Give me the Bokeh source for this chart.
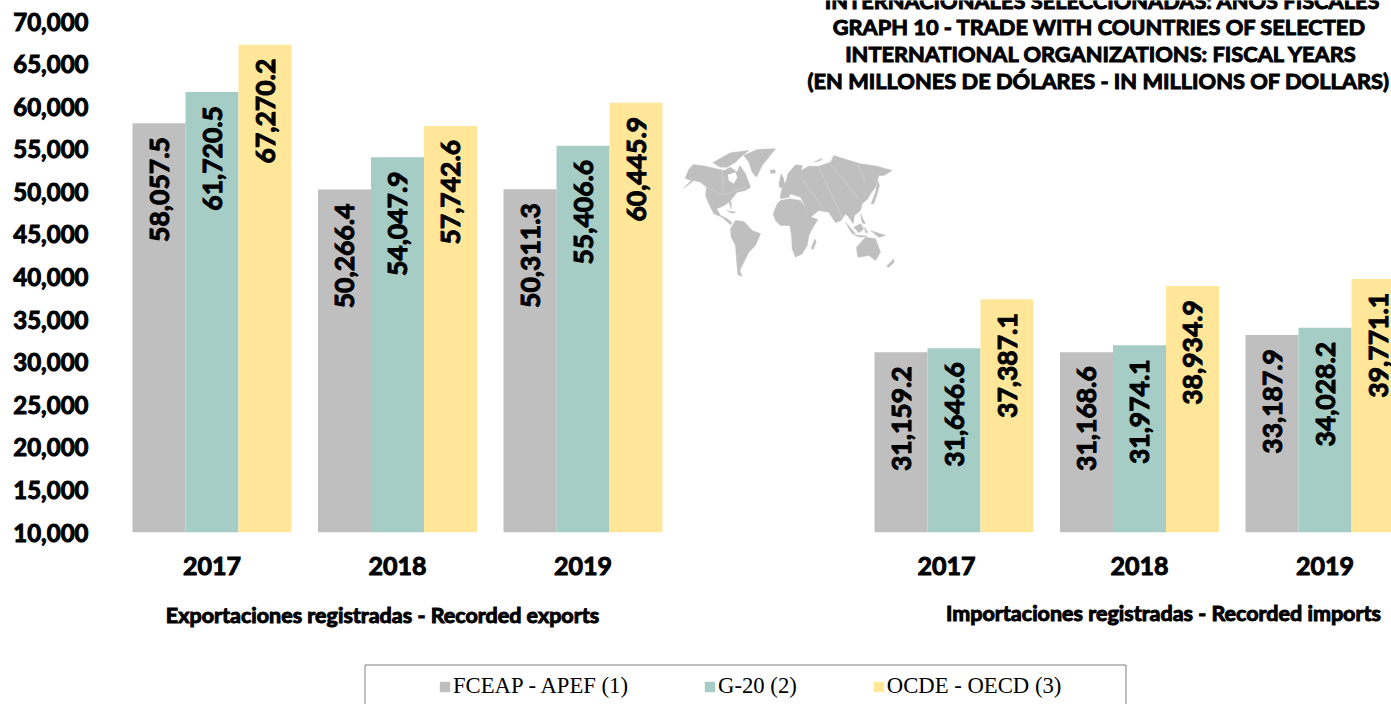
from bokeh.plotting import figure
from bokeh.embed import file_html
from bokeh.resources import INLINE
from bokeh.layouts import column
from bokeh.models import Range1d, Label, Legend, LegendItem, BoxAnnotation, FixedTicker, ColumnDataSource, NumeralTickFormatter
from bokeh.core.properties import value
import math

years = ["2017", "2018", "2019"]
fceap_exp = [58057.5, 50266.4, 50311.3]
g20_exp = [61720.5, 54047.9, 55406.6]
ocde_exp = [67270.2, 57742.6, 60445.9]
fceap_imp = [31159.2, 31168.6, 33187.9]
g20_imp = [31646.6, 31974.1, 34028.2]
ocde_imp = [37387.1, 38934.9, 39771.1]
y_ticks = list(range(10000, 70001, 5000))
series_names = ["FCEAP - APEF (1)", "G-20 (2)", "OCDE - OECD (3)"]
colors = ["#BFBFBF", "#A5CDC6", "#FFE699"]
title_lines = [
    "INTERNACIONALES SELECCIONADAS: AÑOS FISCALES",
    "GRAPH 10 - TRADE WITH COUNTRIES OF SELECTED",
    "INTERNATIONAL ORGANIZATIONS: FISCAL YEARS",
    "(EN MILLONES DE DÓLARES - IN MILLIONS OF DOLLARS)",
]
sub_exp = "Exportaciones registradas - Recorded exports"
sub_imp = "Importaciones registradas - Recorded imports"

FONT = "Lato"
BLACK = "#000000"
W, H = 1391, 704
H1 = 590              # main panel height; the lower panel holds subtitles and legend
H2 = H - H1
L, B = 95, 532
GROUP, BAR = 185.5, 53.0
X0 = 211.5
PX_PER_UNIT = 511 / 60000

x_start = (L - X0) / GROUP
x_end = (W - X0) / GROUP
y_start = 10000
y_end = 10000 + B / PX_PER_UNIT

p = figure(width=W, height=H1, output_backend="svg", toolbar_location=None,
           x_range=Range1d(x_start, x_end), y_range=Range1d(y_start, y_end),
           min_border_left=L, min_border_right=0, min_border_top=0, min_border_bottom=H1 - B)
p.outline_line_color = None
p.grid.visible = False

groups = [0, 1, 2, 4, 5, 6]
bw = BAR / GROUP
rows = [fceap_exp + fceap_imp, g20_exp + g20_imp, ocde_exp + ocde_imp]
for i, vals in enumerate(rows):
    xs = [g + (i - 1) * bw for g in groups]
    src = ColumnDataSource(dict(x=xs, top=vals, lab=[f"{v:,.1f}" for v in vals]))
    p.vbar(x="x", top="top", bottom=y_start, width=bw, source=src,
           fill_color=colors[i], line_color=None)
    p.text(x="x", y="top", text="lab", source=src, angle=math.pi / 2,
           text_align="right", text_baseline="middle", y_offset=14,
           text_font=value(FONT), text_font_style="bold", text_font_size="26.5px", text_color=BLACK,
           text_outline_color=BLACK)

# axes
ya = p.yaxis[0]
ya.ticker = FixedTicker(ticks=y_ticks)
ya.formatter = NumeralTickFormatter(format="0,0")
ya.axis_line_color = None
ya.major_tick_line_color = None
ya.minor_tick_line_color = None
ya.major_label_standoff = 1
ya.major_label_text_font = FONT
ya.major_label_text_font_style = "bold"
ya.major_label_text_font_size = "24px"
ya.major_label_text_color = BLACK
ya.major_label_text_outline_color = BLACK

xa = p.xaxis[0]
tick_pos = [0, 1, 2, 3.96, 5, 6]
xa.ticker = FixedTicker(ticks=tick_pos)
xa.major_label_overrides = {t: y for t, y in zip(tick_pos, years + years)}
xa.axis_line_color = None
xa.major_tick_line_color = None
xa.minor_tick_line_color = None
xa.major_label_standoff = 18
xa.major_label_text_font = FONT
xa.major_label_text_font_style = "bold"
xa.major_label_text_font_size = "25px"
xa.major_label_text_color = BLACK
xa.major_label_text_outline_color = BLACK

# decorative world map, traced in two local drawing boxes (western / eastern half)
MAP_W = [
 [(10,128),(32,105),(14,98),(25,72),(38,57),(75,62),(100,68),(130,75),(150,65),(170,80),(178,60),(195,85),(210,125),(195,135),(170,140),(150,165),(135,178),(120,185),(108,190),(120,210),(140,220),(155,232),(150,238),(125,215),(100,205),(85,175),(75,150),(78,125),(60,110),(40,105)],
 [(97,52),(120,38),(150,22),(205,15),(180,35),(165,50),(140,65),(120,65)],
 [(190,30),(230,12),(285,10),(265,35),(245,60),(228,95),(215,80),(205,50)],
 [(140,195),(165,200),(155,203)],[(145,168),(152,168),(152,190)],
 [(268,75),(283,72),(285,82),(272,84)],[(296,110),(302,85),(310,100),(312,125),(296,125)],
 [(150,250),(165,225),(190,228),(215,255),(240,265),(225,300),(205,320),(190,350),(178,375),(185,392),(172,388),(168,340),(165,300),(152,275)],
]
MAP_HOLES = [[(142,88),(165,80),(170,95),(160,115),(145,105)]]
MAP_E = [
 [(-22,205),(-10,175),(0,165),(30,160),(60,165),(78,190),(92,215),(112,222),(95,250),(85,270),(80,300),(65,325),(45,335),(35,310),(33,270),(28,240),(0,240),(-15,225)],
 [(0,150),(5,125),(18,105),(22,85),(45,58),(65,60),(62,75),(85,62),(115,62),(150,50),(160,30),(190,40),(240,55),(290,62),(335,75),(310,90),(295,90),(285,125),(270,145),(262,160),(245,175),(240,195),(222,210),(218,235),(205,215),(195,205),(182,225),(165,232),(145,200),(115,195),(90,215),(78,190),(60,155),(30,145),(25,155),(0,160)],
 [(195,230),(225,265),(215,265)],
 [(228,305),(255,275),(285,280),(300,320),(285,345),(265,330),(232,335)],
 [(220,245),(240,235),(250,250),(235,262)],[(220,268),(260,272),(240,275)],[(270,255),(315,270),(295,275)],
 [(252,245),(262,260),(255,262)],[(272,175),(285,140),(292,105),(297,120),(290,145),(280,175)],
 [(240,205),(250,225),(255,235),(245,232)],[(318,362),(340,340),(340,352),(325,365)],
 [(92,308),(103,280),(107,290),(98,312)],[(100,50),(125,38),(120,45)],
]
LINES_W = [[(78,125),(128,150),(195,125)],[(128,150),(125,60)]]
LINES_E = [[(60,95),(130,190)],[(115,65),(185,215)],[(150,55),(235,160)],[(232,58),(255,110)]]

def mx(z, box):
    return (box + z / 3 - X0) / GROUP
def my(z):
    return 10000 + (B - (145 + z / 3)) / PX_PER_UNIT
def shape_xs(shapes, box):
    return [[mx(a, box) for a, _ in s] for s in shapes]
def shape_ys(shapes):
    return [[my(b) for _, b in s] for s in shapes]

for shapes, box in ((MAP_W, 680), (MAP_E, 780)):
    p.patches(shape_xs(shapes, box), shape_ys(shapes), fill_color="#BFBFBF", line_color="#BFBFBF", line_width=0.5)
p.patches(shape_xs(MAP_HOLES, 680), shape_ys(MAP_HOLES), fill_color="#FFFFFF", line_color=None)
for shapes, box in ((LINES_W, 680), (LINES_E, 780)):
    p.multi_line(shape_xs(shapes, box), shape_ys(shapes), line_color="#DDDDDD", line_width=0.5)

def lab(fig, text, x, y, size):
    fig.add_layout(Label(x=x, y=y, x_units="canvas", y_units="canvas", text=text,
                         text_font=FONT, text_font_style="bold", text_font_size=size,
                         text_align="center", text_baseline="middle", text_color=BLACK,
                         text_outline_color=BLACK))

for t, x, y in zip(title_lines, [1102, 1099, 1101, 1098], [0, 26, 53, 80]):
    lab(p, t, x, y, "21.8px")

# lower panel: subtitles and legend
q = figure(width=W, height=H2, output_backend="svg", toolbar_location=None,
           x_range=Range1d(0, W), y_range=Range1d(0, H2),
           x_axis_location=None, y_axis_location=None,
           min_border_left=0, min_border_right=0, min_border_top=0, min_border_bottom=0)
q.outline_line_color = None
q.grid.visible = False
lab(q, sub_exp, 382, 614 - H1, "21.5px")
lab(q, sub_imp, 1163, 612 - H1, "21.5px")

q.add_layout(BoxAnnotation(left=364.5, right=1125.5, top=664.5 - H1, bottom=H2 + 8,
                           left_units="canvas", right_units="canvas", top_units="canvas", bottom_units="canvas",
                           fill_color="#FFFFFF", fill_alpha=1, line_color="#7F7F7F", line_alpha=1, line_width=1))
# legend keys: bars parked outside the panel's range, so only the key shows
swatches = [q.vbar(x=[-50], top=[-50], bottom=[-60], width=1, fill_color=c, line_color=None) for c in colors]
leg = Legend(items=[LegendItem(label=n, renderers=[r]) for n, r in zip(series_names, swatches)],
             orientation="horizontal", location=(343, 5), padding=0, margin=0,
             spacing=75, label_standoff=2, glyph_width=13, glyph_height=13,
             border_line_color=None, background_fill_alpha=0,
             label_text_font="Liberation Serif", label_text_font_size="22.7px", label_text_color=BLACK)
q.add_layout(leg, "center")

open("out.html", "w").write(file_html(column(p, q, spacing=0), INLINE))
